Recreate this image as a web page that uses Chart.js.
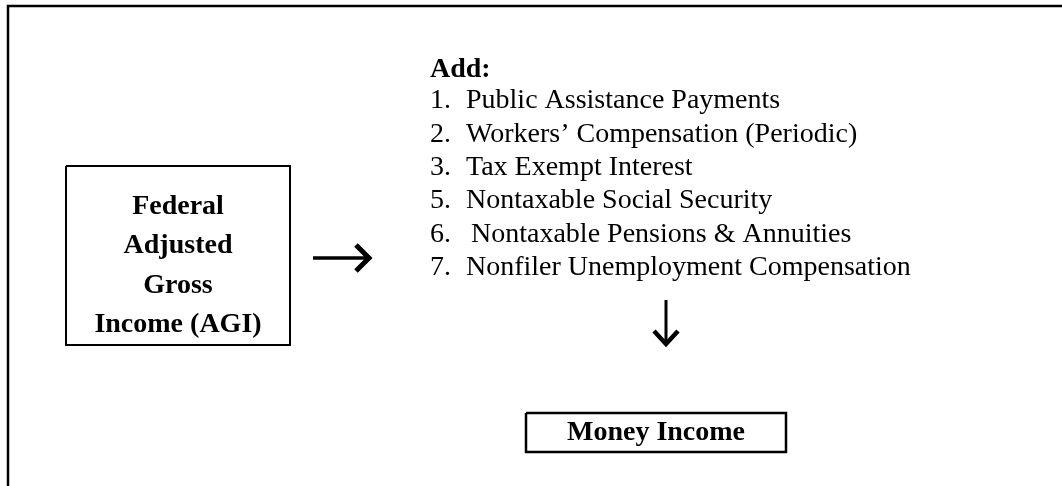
<!DOCTYPE html>
<html>
<head>
<meta charset="utf-8">
<title>Money Income</title>
<script src="https://cdn.jsdelivr.net/npm/chart.js@4/dist/chart.umd.min.js"></script>
<style>
    body { margin: 0; background: #ffffff; }
    canvas { display: block; }
</style>
</head>
<body>
<canvas id="diagram" width="1062" height="486"></canvas>
<script>
// text content of the diagram
const agiLines = ["Federal", "Adjusted", "Gross", "Income (AGI)"];
const addTitle = "Add:";
const itemNumbers = ["1.", "2.", "3.", "5.", "6.", "7."];
const itemLabels = [
    "Public Assistance Payments",
    "Workers\u2019 Compensation (Periodic)",
    "Tax Exempt Interest",
    "Nontaxable Social Security",
    "Nontaxable Pensions & Annuities",
    "Nonfiler Unemployment Compensation"
];
const resultLabel = "Money Income";

// layout, in page pixels (x to the right, y downward)
const W = 1062;
const H = 486;
const FONT = "'Liberation Serif', 'Times New Roman', serif";
const TEXT_SIZE = 28;
const agiBox = { left: 66, top: 166, right: 290, bottom: 345 };
const agiTextX = 178;
const agiTextY = [207, 246, 286, 325];
const addX = 430;
const addY = 70;
const numberX = 430;
const labelX = [466, 466, 466, 466, 471, 466];
const itemY = [101, 135, 168, 201, 235, 268];
const moneyBox = { left: 526, top: 413, right: 786, bottom: 452 };
const rightArrow = { x1: 313, x2: 371, y: 258 };
const downArrow = { x: 666, y1: 300, y2: 346 };

function boxPoints(b) {
    return [
        { x: b.left, y: b.top },
        { x: b.right, y: b.top },
        { x: b.right, y: b.bottom },
        { x: b.left, y: b.bottom },
        { x: b.left, y: b.top }
    ];
}

function stroke(label, points, width) {
    return {
        label: label,
        data: points,
        showLine: true,
        borderColor: "#000000",
        backgroundColor: "#000000",
        borderWidth: width,
        pointRadius: 0,
        tension: 0,
        fill: false,
        clip: false,
        borderJoinStyle: "miter",
        borderCapStyle: "butt"
    };
}

const datasets = [
    stroke("frame", [{ x: 8, y: H }, { x: 8, y: 6 }, { x: W, y: 6 }], 2.5),
    stroke("agiBox", boxPoints(agiBox), 2),
    stroke("moneyBox", boxPoints(moneyBox), 2.5),
    stroke("rightShaft", [{ x: rightArrow.x1, y: rightArrow.y }, { x: rightArrow.x2 - 4, y: rightArrow.y }], 3.5),
    stroke("rightHead", [
        { x: rightArrow.x2 - 15, y: rightArrow.y - 13 },
        { x: rightArrow.x2 - 2, y: rightArrow.y },
        { x: rightArrow.x2 - 15, y: rightArrow.y + 13 }
    ], 5),
    stroke("downShaft", [{ x: downArrow.x, y: downArrow.y1 }, { x: downArrow.x, y: downArrow.y2 - 4 }], 3),
    stroke("downHead", [
        { x: downArrow.x - 12, y: downArrow.y2 - 15 },
        { x: downArrow.x, y: downArrow.y2 - 2 },
        { x: downArrow.x + 12, y: downArrow.y2 - 15 }
    ], 4.5)
];

// draws the words at positions mapped through the chart scales
const textPlugin = {
    id: "diagramText",
    afterDatasetsDraw(chart) {
        const ctx = chart.ctx;
        const sx = chart.scales.x;
        const sy = chart.scales.y;
        ctx.save();
        ctx.fillStyle = "#000000";
        ctx.textBaseline = "middle";

        ctx.font = "bold " + TEXT_SIZE + "px " + FONT;
        ctx.textAlign = "center";
        agiLines.forEach(function (line, i) {
            ctx.fillText(line, sx.getPixelForValue(agiTextX), sy.getPixelForValue(agiTextY[i]));
        });
        ctx.fillText(resultLabel,
            sx.getPixelForValue((moneyBox.left + moneyBox.right) / 2),
            sy.getPixelForValue((moneyBox.top + moneyBox.bottom) / 2));

        ctx.textAlign = "left";
        ctx.fillText(addTitle, sx.getPixelForValue(addX), sy.getPixelForValue(addY));

        ctx.font = TEXT_SIZE + "px " + FONT;
        itemLabels.forEach(function (label, i) {
            let y = sy.getPixelForValue(itemY[i]);
            ctx.fillText(itemNumbers[i], sx.getPixelForValue(numberX), y);
            ctx.fillText(label, sx.getPixelForValue(labelX[i]), y);
        });
        ctx.restore();
    }
};

const config = {
    type: "scatter",
    data: { datasets: datasets },
    options: {
        responsive: false,
        animation: false,
        devicePixelRatio: 1,
        layout: { padding: 0 },
        plugins: {
            legend: { display: false },
            tooltip: { enabled: false }
        },
        scales: {
            x: { type: "linear", min: 0, max: W, display: false },
            y: { type: "linear", min: 0, max: H, reverse: true, display: false }
        }
    },
    plugins: [textPlugin]
};

let chart = new Chart(document.getElementById("diagram").getContext("2d"), config);
</script>
</body>
</html>
